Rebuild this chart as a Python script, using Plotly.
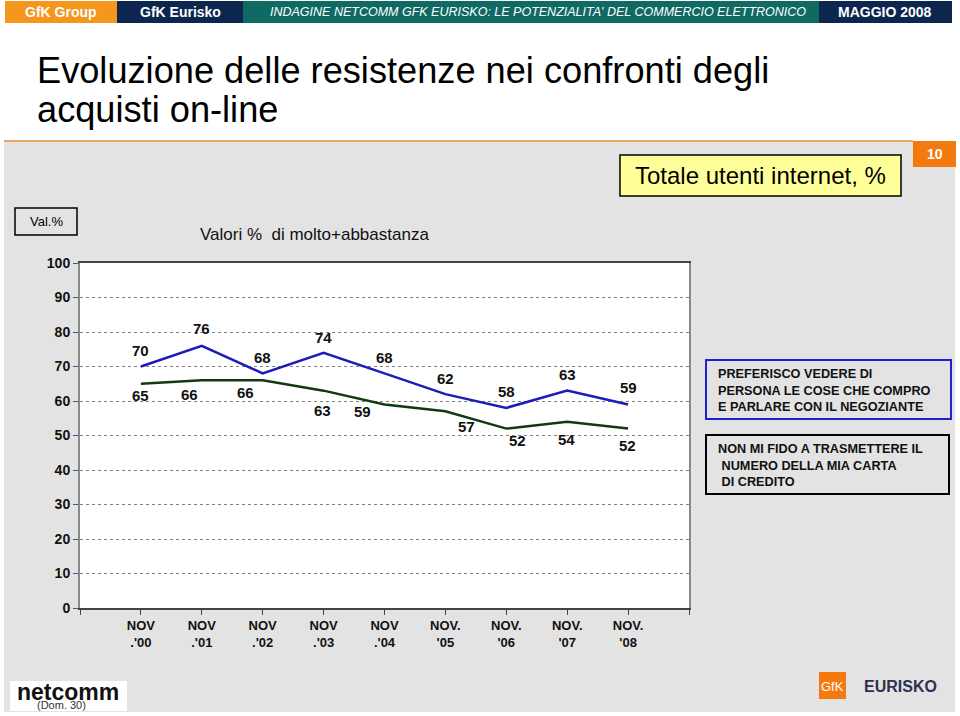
import plotly.graph_objects as go

# ---------------- data ----------------
periods = ["NOV<br>.'00", "NOV<br>.'01", "NOV<br>.'02", "NOV<br>.'03", "NOV<br>.'04",
           "NOV.<br>'05", "NOV.<br>'06", "NOV.<br>'07", "NOV.<br>'08"]
preferisco = [70, 76, 68, 74, 68, 62, 58, 63, 59]
non_mi_fido = [65, 66, 66, 63, 59, 57, 52, 54, 52]
y_ticks = [0, 10, 20, 30, 40, 50, 60, 70, 80, 90, 100]

legend_pref = "PREFERISCO VEDERE DI<br>PERSONA LE COSE CHE COMPRO<br>E PARLARE CON IL NEGOZIANTE"
legend_fido = "NON MI FIDO A TRASMETTERE IL<br>&nbsp;NUMERO DELLA MIA CARTA<br>&nbsp;DI CREDITO"

# label offsets (style only)
pref_dx = [0, 0, 0, 0, 0, 0, 0, 0, 0]
pref_dy = [16, 17, 16, 15, 16, 16, 16, 16, 17]
fido_dx = [0, -12, -17, -1, -22, 21, 11, -1, -1]
fido_dy = [-12, -14, -12, -20, -7, -15, -12, -18, -17]

BLUE = "#1c1cb8"
GREEN = "#123a12"
GREY = "#e3e3e3"
FONT = "Liberation Sans, Arial, sans-serif"

# plot area in pixels
L, R, T, B = 80, 689, 263, 608


def PX(x):
    return (x - L) / (R - L)


def PY(y):
    return (B - y) / (B - T)


xpos = [i + 1 for i in range(len(periods))]

fig = go.Figure()
fig.add_trace(go.Scatter(x=xpos, y=preferisco, mode="lines",
                         line=dict(color=BLUE, width=2.5), hoverinfo="skip"))
fig.add_trace(go.Scatter(x=xpos, y=non_mi_fido, mode="lines",
                         line=dict(color=GREEN, width=2.5), hoverinfo="skip"))

ann = []
for xi, v, dx, dy in zip(xpos, preferisco, pref_dx, pref_dy):
    ann.append(dict(x=xi, y=v, xref="x", yref="y", text=str(v), showarrow=False,
                    xshift=dx, yshift=dy,
                    font=dict(family=FONT, size=15, color="#111", weight="bold")))
for xi, v, dx, dy in zip(xpos, non_mi_fido, fido_dx, fido_dy):
    ann.append(dict(x=xi, y=v, xref="x", yref="y", text=str(v), showarrow=False,
                    xshift=dx, yshift=dy,
                    font=dict(family=FONT, size=15, color="#111", weight="bold")))


def text(px, py, s, size, color="#000", xanchor="center", weight="normal",
         style="normal", family=FONT, align="left"):
    ann.append(dict(x=PX(px), y=PY(py), xref="paper", yref="paper", text=s,
                    showarrow=False, xanchor=xanchor, yanchor="middle", align=align,
                    font=dict(family=family, size=size, color=color, weight=weight,
                              style=style)))


shapes = []


def rect(x0, y0, x1, y1, fill, line_color=None, lw=0, layer="above"):
    shapes.append(dict(type="rect", xref="paper", yref="paper",
                       x0=PX(x0), x1=PX(x1), y0=PY(y1), y1=PY(y0),
                       fillcolor=fill, layer=layer,
                       line=dict(color=line_color or fill, width=lw)))


# backgrounds
rect(4, 141, 955, 712, GREY, layer="below")
rect(L, T, R, B, "#ffffff", layer="below")
shapes.append(dict(type="line", xref="paper", yref="paper", x0=PX(4), x1=PX(913),
                   y0=PY(141), y1=PY(141), line=dict(color="#e9a56a", width=2)))

# header bar
rect(5, 1, 117, 23, "#f5971c")
rect(117, 1, 243, 23, "#0c2650")
rect(243, 1, 819, 23, "#0f6a64")
rect(819, 1, 952, 23, "#0c2650")
text(61, 12, "GfK Group", 14, "#ffffff", weight="bold")
text(180, 12, "GfK Eurisko", 14, "#ffffff", weight="bold")
text(538, 12, "INDAGINE NETCOMM GFK EURISKO: LE POTENZIALITA' DEL COMMERCIO ELETTRONICO",
     12.5, "#ffffff", style="italic")
text(885, 12, "MAGGIO 2008", 14, "#ffffff", weight="bold")

# title
text(35, 70, "Evoluzione delle resistenze nei confronti degli", 36.2, "#000", xanchor="left")
text(35, 109, "acquisti on-line", 36.2, "#000", xanchor="left")

# page number
rect(913, 141, 956, 167, "#f47a10")
text(935, 154, "10", 14, "#ffffff", weight="bold")

# Totale box
rect(620, 155, 901, 196, "#ffff99", "#000000", 1.5)
text(760, 176, "Totale utenti internet, %", 24, "#000")

# Val.% box
rect(15, 208, 77, 235, GREY, "#000000", 1.5)
text(46, 221, "Val.%", 13, "#000")
text(198, 235, "Valori %  di molto+abbastanza", 17, "#111", xanchor="left")

# legend boxes
rect(706, 360, 951, 419, GREY, "#2020d0", 2)
text(716, 390, legend_pref, 12.7, "#111", xanchor="left", weight="bold")
rect(706, 435, 949, 494, GREY, "#000000", 2)
text(716, 465, legend_fido, 12.7, "#111", xanchor="left", weight="bold")

# netcomm logo
rect(10, 681, 127, 711, "#ffffff")
text(15, 692, "netcomm", 23, "#111", xanchor="left", weight="bold")
text(61, 705, "(Dom. 30)", 11, "#333")

# GfK Eurisko logo
rect(819, 672, 846, 699, "#f47a10")
text(832.5, 686, "GfK", 13, "#ffffff")
text(900, 686, "EURISKO", 16, "#2d3150", weight="bold")

fig.update_layout(
    width=960, height=716,
    margin=dict(l=L, r=960 - R, t=T, b=716 - B, pad=0),
    paper_bgcolor="#ffffff", plot_bgcolor="rgba(0,0,0,0)",
    showlegend=False,
    annotations=ann, shapes=shapes,
    xaxis=dict(range=[0, 10], tickmode="array", tickvals=list(range(11)),
               ticktext=[""] + periods + [""],
               showgrid=False, zeroline=False, showline=True, mirror=True,
               linecolor="#444", linewidth=1.5, ticks="outside", ticklen=5,
               tickcolor="#444", fixedrange=True,
               tickfont=dict(family=FONT, size=13, color="#111", weight="bold")),
    yaxis=dict(range=[0, 100], tickmode="array", tickvals=y_ticks,
               showgrid=True, gridcolor="#808080", griddash="dot", gridwidth=1,
               zeroline=False, showline=True, mirror=True,
               linecolor="#888", linewidth=2, ticks="outside", ticklen=5,
               tickcolor="#555", fixedrange=True,
               tickfont=dict(family=FONT, size=14, color="#111", weight="bold")),
)

fig.write_html("out.html")
